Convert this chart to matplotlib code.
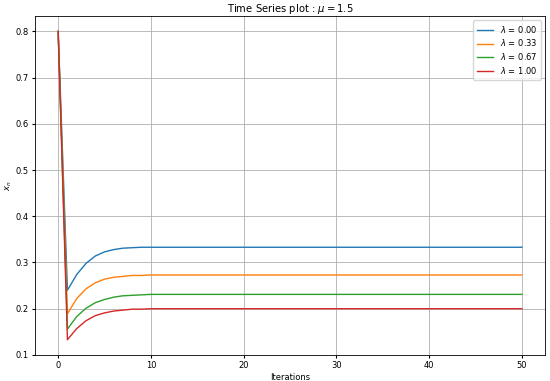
import matplotlib
matplotlib.use("Agg")
import matplotlib.pyplot as plt

iterations = list(range(51))

x_lam0 = [0.800, 0.240, 0.274, 0.298, 0.314, 0.323, 0.328, 0.331, 0.332, 0.333, 0.333,
          0.333, 0.333, 0.333, 0.333, 0.333, 0.333, 0.333, 0.333, 0.333, 0.333,
          0.333, 0.333, 0.333, 0.333, 0.333, 0.333, 0.333, 0.333, 0.333, 0.333,
          0.333, 0.333, 0.333, 0.333, 0.333, 0.333, 0.333, 0.333, 0.333, 0.333,
          0.333, 0.333, 0.333, 0.333, 0.333, 0.333, 0.333, 0.333, 0.333, 0.333]
x_lam33 = [0.800, 0.189, 0.222, 0.243, 0.256, 0.264, 0.268, 0.270, 0.272, 0.272, 0.273,
           0.273, 0.273, 0.273, 0.273, 0.273, 0.273, 0.273, 0.273, 0.273, 0.273,
           0.273, 0.273, 0.273, 0.273, 0.273, 0.273, 0.273, 0.273, 0.273, 0.273,
           0.273, 0.273, 0.273, 0.273, 0.273, 0.273, 0.273, 0.273, 0.273, 0.273,
           0.273, 0.273, 0.273, 0.273, 0.273, 0.273, 0.273, 0.273, 0.273, 0.273]
x_lam67 = [0.800, 0.156, 0.183, 0.201, 0.213, 0.220, 0.225, 0.228, 0.229, 0.230, 0.231,
           0.231, 0.231, 0.231, 0.231, 0.231, 0.231, 0.231, 0.231, 0.231, 0.231,
           0.231, 0.231, 0.231, 0.231, 0.231, 0.231, 0.231, 0.231, 0.231, 0.231,
           0.231, 0.231, 0.231, 0.231, 0.231, 0.231, 0.231, 0.231, 0.231, 0.231,
           0.231, 0.231, 0.231, 0.231, 0.231, 0.231, 0.231, 0.231, 0.231, 0.231]
x_lam100 = [0.800, 0.133, 0.157, 0.174, 0.185, 0.191, 0.195, 0.197, 0.199, 0.199, 0.200,
            0.200, 0.200, 0.200, 0.200, 0.200, 0.200, 0.200, 0.200, 0.200, 0.200,
            0.200, 0.200, 0.200, 0.200, 0.200, 0.200, 0.200, 0.200, 0.200, 0.200,
            0.200, 0.200, 0.200, 0.200, 0.200, 0.200, 0.200, 0.200, 0.200, 0.200,
            0.200, 0.200, 0.200, 0.200, 0.200, 0.200, 0.200, 0.200, 0.200, 0.200]

series = [x_lam0, x_lam33, x_lam67, x_lam100]
labels = [r"$\lambda$ = 0.00", r"$\lambda$ = 0.33", r"$\lambda$ = 0.67", r"$\lambda$ = 1.00"]
colors = ["#1f77b4", "#ff7f0e", "#2ca02c", "#d62728"]

fig = plt.figure(figsize=(5.5, 3.81), dpi=100)
ax = fig.add_axes([0.0636, 0.068, 0.9274, 0.89])
for ys, lab, c in zip(series, labels, colors):
    ax.plot(iterations, ys, color=c, label=lab, linewidth=1.0)

ax.set_title(r"Time Series plot : $\mu = 1.5$", fontsize=7.2, pad=3)
ax.set_xlabel("Iterations", fontsize=6, labelpad=2)
ax.set_ylabel(r"$x_n$", fontsize=6, labelpad=1)
ax.tick_params(labelsize=6, length=2.5, pad=2)
ax.grid(True, color="#b0b0b0", linewidth=0.6)
ax.legend(fontsize=6, loc="upper right", handlelength=2.0, borderpad=0.4, labelspacing=0.35)
for s in ax.spines.values():
    s.set_linewidth(0.6)

fig.savefig("out.png", dpi=100)
